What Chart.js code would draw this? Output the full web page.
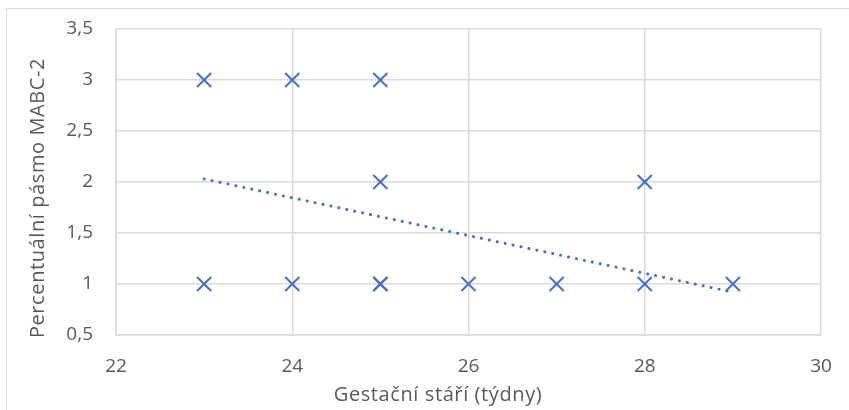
<!DOCTYPE html>
<html>
<head>
<meta charset="utf-8">
<script src="https://cdn.jsdelivr.net/npm/chart.js@4"></script>
<style>
  html, body { margin: 0; padding: 0; background: #fff; }
  #wrap { position: relative; width: 849px; height: 410px; }
  #frame { position: absolute; left: 6px; top: 8px; right: 0; bottom: 0;
           border-left: 1.5px solid #d9d9d9; border-top: 1.5px solid #d9d9d9; }
  canvas { position: absolute; left: 0; top: 0; }
</style>
</head>
<body>
<div id="wrap">
  <div id="frame"></div>
  <canvas id="gestChart" width="849" height="410"></canvas>
</div>
<script>
// data
const gestWeeks = [23, 24, 25, 25, 28, 23, 24, 25, 25, 26, 27, 28, 29];
const mabcBand  = [3, 3, 3, 2, 2, 1, 1, 1, 1, 1, 1, 1, 1];
const trendWeeks = [23, 29];
const trendBand  = [2.03, 0.92];
const xTicks = [22, 24, 26, 28, 30];
const yTicks = [0.5, 1, 1.5, 2, 2.5, 3, 3.5];
const xTitle = 'Gestační stáří (týdny)';
const yTitle = 'Percentuální pásmo MABC-2';

const blue = '#4472C4';
const gridCol = '#d9d9d9';
const textCol = '#595959';
const fontFam = '"Open Sans", sans-serif';

const points = gestWeeks.map((x, i) => ({ x: x, y: mabcBand[i] }));
const trend = trendWeeks.map((x, i) => ({ x: x, y: trendBand[i] }));

// axis titles, placed like Excel does (centred on the chart, not the plot)
const axisTitles = {
  id: 'axisTitles',
  afterDraw(chart) {
    const { ctx } = chart;
    ctx.save();
    ctx.fillStyle = textCol;
    ctx.font = '20px ' + fontFam;
    ctx.letterSpacing = '0.6px';
    ctx.textAlign = 'center';
    ctx.textBaseline = 'middle';
    ctx.fillText(xTitle, 438, 395);
    ctx.translate(38, 198);
    ctx.rotate(-Math.PI / 2);
    ctx.fillText(yTitle, 0, 0);
    ctx.restore();
  }
};

const ctx = document.getElementById('gestChart').getContext('2d');

new Chart(ctx, {
  type: 'scatter',
  data: {
    datasets: [
      {
        label: 'data',
        data: points,
        pointStyle: 'crossRot',
        pointRadius: 10,
        pointBorderWidth: 2,
        borderColor: blue,
        backgroundColor: blue,
        showLine: false
      },
      {
        label: 'trend',
        type: 'line',
        data: trend,
        borderColor: blue,
        borderWidth: 3,
        borderDash: [0.1, 8],
        borderCapStyle: 'round',
        pointRadius: 0,
        fill: false
      }
    ]
  },
  options: {
    responsive: false,
    animation: false,
    layout: { autoPadding: false, padding: { left: 0, top: 29, right: 28, bottom: 0 } },
    scales: {
      x: {
        type: 'linear',
        min: 22,
        max: 30,
        afterBuildTicks: s => { s.ticks = xTicks.map(v => ({ value: v })); },
        afterFit: s => { s.height = 75; s.paddingLeft = 0; s.paddingRight = 0; },
        grid: { color: gridCol, lineWidth: 1.5, drawTicks: false },
        border: { color: gridCol, width: 1.5 },
        ticks: {
          padding: 20,
          color: textCol,
          font: { family: fontFam, size: 19 },
          callback: v => String(v)
        }
      },
      y: {
        type: 'linear',
        min: 0.5,
        max: 3.5,
        afterBuildTicks: s => { s.ticks = yTicks.map(v => ({ value: v })); },
        afterFit: s => { s.width = 116; s.paddingTop = 0; s.paddingBottom = 0; },
        grid: { color: gridCol, lineWidth: 1.5, drawTicks: false },
        border: { color: gridCol, width: 1.5 },
        ticks: {
          padding: 23,
          color: textCol,
          font: { family: fontFam, size: 19 },
          callback: v => String(v).replace('.', ',')
        }
      }
    },
    plugins: {
      legend: { display: false },
      tooltip: { enabled: false }
    }
  },
  plugins: [axisTitles]
});
</script>
</body>
</html>
